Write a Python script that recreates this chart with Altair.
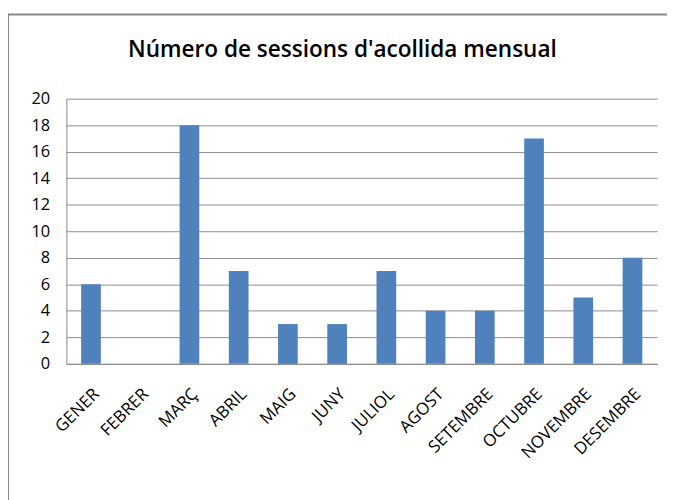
import altair as alt
import pandas as pd

months = ["GENER", "FEBRER", "MARÇ", "ABRIL", "MAIG", "JUNY", "JULIOL",
          "AGOST", "SETEMBRE", "OCTUBRE", "NOVEMBRE", "DESEMBRE"]
sessions = [6, 0, 18, 7, 3, 3, 7, 4, 4, 17, 5, 8]
y_ticks = list(range(0, 21, 2))
title_text = "Número de sessions d'acollida mensual"

df = pd.DataFrame({"mes": months, "sessions": sessions})

FONT = "Open Sans"

bars = alt.Chart(df).mark_bar(color="#4F81BD").encode(
    x=alt.X("mes:N", sort=months,
            scale=alt.Scale(paddingInner=0.6, paddingOuter=0.3),
            axis=alt.Axis(title=None, labelAngle=-45, labelFontSize=17,
                          labelFont=FONT, labelColor="#000000", ticks=False,
                          labelPadding=22, domainColor="#888888",
                          labelOverlap=False)),
    y=alt.Y("sessions:Q", scale=alt.Scale(domain=[0, 20], nice=False),
            axis=alt.Axis(title=None, values=y_ticks, ticks=False,
                          labelFontSize=16.5, labelFont=FONT, labelColor="#000000",
                          labelPadding=17, gridColor="#8c8c8c", domainColor="#888888")),
)

title = alt.Chart().mark_text(text=title_text, font=FONT, fontSize=22.8,
                              fontWeight=600, color="#000000",
                              align="center", baseline="middle").encode(
    x=alt.value(279), y=alt.value(-49))

border_top = alt.Chart().mark_rule(color="#888888", strokeWidth=2).encode(
    x=alt.value(-59), x2=alt.value(620), y=alt.value(-85))
border_left = alt.Chart().mark_rule(color="#888888", strokeWidth=2).encode(
    x=alt.value(-59), y=alt.value(-85), y2=alt.value(420))

chart = alt.layer(bars, title, border_top, border_left).properties(
    width=597, height=268,
    autosize=alt.AutoSizeParams(type="none"),
    padding={"left": 59, "top": 89, "right": 10, "bottom": 135},
).configure_view(stroke=None)

chart.save("out.html", embed_options={"renderer": "svg", "actions": False})
